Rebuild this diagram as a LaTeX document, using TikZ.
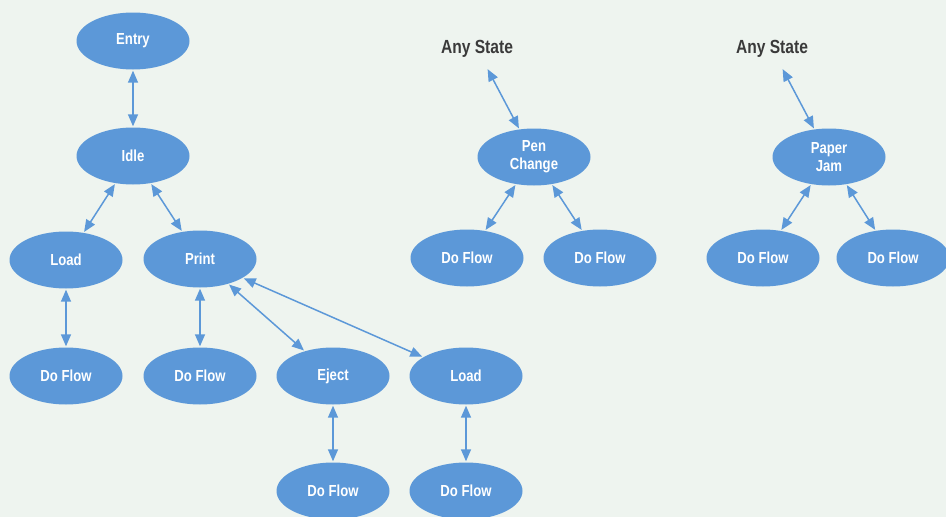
\documentclass[tikz,border=0pt]{standalone}
\usepackage{fontspec}
\setmainfont{Liberation Sans}
\newfontfamily\condb[FakeStretch=0.82]{Liberation Sans Bold}
\usetikzlibrary{shapes.geometric,arrows.meta}
\definecolor{bg}{HTML}{EEF4EF}
\definecolor{blu}{HTML}{5C98D8}
\definecolor{dk}{HTML}{3A3A3A}
\tikzset{
  st/.style={ellipse,fill=blu,draw=none,minimum width=113pt,minimum height=57pt,inner sep=0pt,
    text=white,font=\condb\fontsize{16}{18}\selectfont,align=center},
  lbl/.style={text=dk,font=\condb\fontsize{19}{21}\selectfont,inner sep=6pt},
  con/.style={draw=blu,line width=1.5pt,{Triangle[length=12pt,width=10pt]}-{Triangle[length=12pt,width=10pt]},shorten <=1pt,shorten >=1pt}
}
\begin{document}
\begin{tikzpicture}[x=1pt,y=-1pt]
\fill[bg] (0,0) rectangle (946,517);
\useasboundingbox (0,0) rectangle (946,517);
\node[st] (entry) at (133,41) {Entry};
\node[st] (idle) at (133,156) {Idle};
\node[st] (load1) at (66,260) {Load};
\node[st] (print) at (200,259) {Print};
\node[st] (df1) at (66,376) {Do Flow};
\node[st] (df2) at (200,376) {Do Flow};
\node[st] (eject) at (333,376) {Eject};
\node[st] (load2) at (466,376) {Load};
\node[st] (df3) at (333,491) {Do Flow};
\node[st] (df4) at (466,491) {Do Flow};
\node[lbl] (any1) at (477,49) {Any State};
\node[st] (pen) at (534,157) {Pen\\Change};
\node[st] (df5) at (467,258) {Do Flow};
\node[st] (df6) at (600,258) {Do Flow};
\node[lbl] (any2) at (772,49) {Any State};
\node[st] (jam) at (829,157) {Paper\\Jam};
\node[st] (df7) at (763,258) {Do Flow};
\node[st] (df8) at (893,258) {Do Flow};
\draw[con] (entry) -- (idle);
\draw[con] (idle) -- (load1);
\draw[con] (idle) -- (print);
\draw[con] (load1) -- (df1);
\draw[con] (print) -- (df2);
\draw[con] (print) -- (eject);
\draw[con] (print) -- (load2);
\draw[con] (eject) -- (df3);
\draw[con] (load2) -- (df4);
\draw[con,shorten <=6pt] (any1) -- (pen);
\draw[con] (pen) -- (df5);
\draw[con] (pen) -- (df6);
\draw[con,shorten <=6pt] (any2) -- (jam);
\draw[con] (jam) -- (df7);
\draw[con] (jam) -- (df8);
\end{tikzpicture}
\end{document}
